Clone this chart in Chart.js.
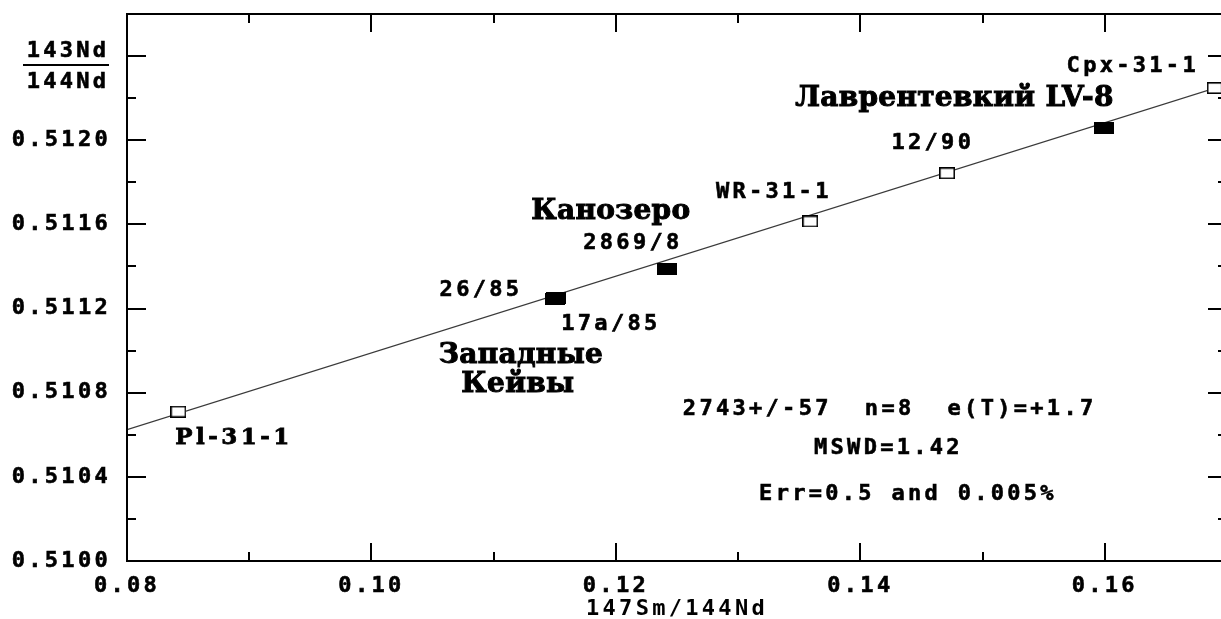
<!DOCTYPE html>
<html>
<head>
<meta charset="utf-8">
<script src="https://cdn.jsdelivr.net/npm/chart.js@4.4.1/dist/chart.umd.min.js"></script>
<style>
  html, body { margin: 0; padding: 0; background: #fff; overflow: hidden; width: 1221px; height: 619px; }
  #wrap { position: absolute; left: 0; top: 0; width: 1232px; height: 619px; }
</style>
</head>
<body>
<div id="wrap"><canvas id="c" width="1232" height="619"></canvas></div>
<script>
// Sm-Nd isochron samples
const sampleNames  = ['Pl-31-1', '26/85', '17a/85', '2869/8', 'WR-31-1', '12/90', 'LV-8', 'Cpx-31-1'];
const sm147Nd144   = [0.0842, 0.1150, 0.1151, 0.1242, 0.1359, 0.1471, 0.1599, 0.1690];
const nd143Nd144   = [0.510710, 0.511243, 0.511248, 0.511390, 0.511614, 0.511843, 0.512057, 0.512248];
const sampleFilled = [false, true, true, true, false, false, true, false];

// Fitted isochron end points
const isochronX = [0.08, 0.17];
const isochronY = [0.510624, 0.512266];

// Labelled axis ticks
const xTickLabels = ['0.08', '0.10', '0.12', '0.14', '0.16'];
const yTickLabels = ['0.5100', '0.5104', '0.5108', '0.5112', '0.5116', '0.5120'];

// Text placed on the plot, anchored in data units
const notes = [
  { text: 'Pl-31-1',  x: 0.08875, y: 0.510586, kind: 'pl' },
  { text: '26/85',    x: 0.10896, y: 0.511286, kind: 'mono' },
  { text: '17a/85',   x: 0.11959, y: 0.511124, kind: 'mono' },
  { text: '2869/8',   x: 0.12139, y: 0.511510, kind: 'mono' },
  { text: 'WR-31-1',  x: 0.13292, y: 0.511752, kind: 'mono' },
  { text: '12/90',    x: 0.14593, y: 0.511986, kind: 'mono' },
  { text: 'Cpx-31-1', x: 0.16229, y: 0.512352, kind: 'mono' },
  { text: 'Канозеро', x: 0.11959, y: 0.511662, kind: 'serif' },
  { text: 'Лаврентевкий LV-8', x: 0.14770, y: 0.512195, kind: 'serif' },
  { text: 'Западные', x: 0.11223, y: 0.510976, kind: 'serif' },
  { text: 'Кейвы',    x: 0.11198, y: 0.510838, kind: 'serif' },
  { text: '2743+/-57  n=8  e(T)=+1.7', x: 0.14240, y: 0.510719, kind: 'mono' },
  { text: 'MSWD=1.42', x: 0.14230, y: 0.510538, kind: 'mono' },
  { text: 'Err=0.5 and 0.005%', x: 0.14390, y: 0.510319, kind: 'mono' }
];

const MONO_FAMILY = '"DejaVu Sans Mono", monospace';
const MONO_SPACING = '3.3px';
const FONTS = {
  mono:  { font: 'bold 22px ' + MONO_FAMILY, spacing: MONO_SPACING, stroke: 0.6 },
  pl:    { font: 'bold 23px "DejaVu Serif", serif', spacing: '3.5px', stroke: 0.8 },
  serif: { font: 'bold 28px "DejaVu Serif", serif', spacing: '0.3px', stroke: 1.0 }
};

// Marker images: open and solid rectangles
function makeMarker(filled) {
  const c = document.createElement('canvas');
  const w = filled ? 20 : 16, h = 12;
  c.width = w; c.height = h;
  const g = c.getContext('2d');
  if (filled) {
    g.fillStyle = '#000';
    g.fillRect(0, 0, w, h);
  } else {
    g.fillStyle = '#fff';
    g.fillRect(0, 0, w, h);
    g.strokeStyle = '#000';
    g.lineWidth = 1.6;
    g.strokeRect(0.8, 0.8, w - 1.6, h - 1.6);
  }
  return c;
}

function pointsOf(filled) {
  const out = [];
  for (let i = 0; i < sampleNames.length; i++) {
    if (sampleFilled[i] === filled) out.push({ x: sm147Nd144[i], y: nd143Nd144[i], name: sampleNames[i] });
  }
  return out;
}

const isMajorX = v => Math.round(v * 100) % 2 === 0;
const isMajorY = v => Math.round(v * 10000) % 4 === 0;

function boldText(ctx, text, px, py, strokeW) {
  ctx.lineWidth = strokeW;
  ctx.strokeText(text, px, py);
  ctx.fillText(text, px, py);
}

const framePlugin = {
  id: 'frame',
  beforeLayout(chart) { chart.ctx.letterSpacing = MONO_SPACING; },
  beforeDraw(chart) { chart.ctx.letterSpacing = MONO_SPACING; },
  afterDraw(chart) {
    const { ctx, chartArea: a, scales: { x, y } } = chart;
    ctx.save();
    ctx.strokeStyle = '#000';
    ctx.lineWidth = 2;
    ctx.strokeRect(a.left, a.top, a.right - a.left, a.bottom - a.top);
    ctx.beginPath();
    x.ticks.forEach(t => {
      const px = Math.round(x.getPixelForValue(t.value));
      const len = isMajorX(t.value) ? 18 : 9;
      ctx.moveTo(px, a.bottom); ctx.lineTo(px, a.bottom - len);
      ctx.moveTo(px, a.top);    ctx.lineTo(px, a.top + len);
    });
    y.ticks.forEach(t => {
      const py = Math.round(y.getPixelForValue(t.value));
      const len = isMajorY(t.value) ? 19 : 9;
      ctx.moveTo(a.left, py);  ctx.lineTo(a.left + len, py);
      ctx.moveTo(a.right, py); ctx.lineTo(a.right - len, py);
    });
    ctx.stroke();

    // y axis title as a fraction
    ctx.fillStyle = '#000';
    ctx.font = FONTS.mono.font;
    ctx.letterSpacing = FONTS.mono.spacing;
    ctx.textAlign = 'center';
    ctx.textBaseline = 'middle';
    boldText(ctx, '143Nd', 68, 51, FONTS.mono.stroke);
    boldText(ctx, '144Nd', 68, 82, FONTS.mono.stroke);
    ctx.lineWidth = 2;
    ctx.beginPath();
    ctx.moveTo(23, 65); ctx.lineTo(109, 65);
    ctx.stroke();

    // plot annotations
    notes.forEach(n => {
      const f = FONTS[n.kind];
      ctx.font = f.font;
      ctx.letterSpacing = f.spacing;
      boldText(ctx, n.text, x.getPixelForValue(n.x), y.getPixelForValue(n.y), f.stroke);
    });
    ctx.restore();
  }
};

const tickFont = { family: MONO_FAMILY, size: 22, weight: 'bold' };

new Chart(document.getElementById('c'), {
  type: 'scatter',
  data: {
    datasets: [
      {
        label: 'isochron',
        data: isochronX.map((v, i) => ({ x: v, y: isochronY[i] })),
        showLine: true,
        borderColor: '#3a3a3a',
        borderWidth: 1.3,
        pointRadius: 0,
        order: 3
      },
      {
        label: 'open',
        data: pointsOf(false),
        pointStyle: makeMarker(false),
        order: 1
      },
      {
        label: 'filled',
        data: pointsOf(true),
        pointStyle: makeMarker(true),
        order: 2
      }
    ]
  },
  options: {
    responsive: false,
    animation: false,
    devicePixelRatio: 1,
    layout: { padding: { top: 14, right: 5, left: 0, bottom: 0 } },
    plugins: { legend: { display: false }, tooltip: { enabled: false } },
    scales: {
      x: {
        type: 'linear',
        min: 0.08, max: 0.17,
        grid: { display: false, drawTicks: false },
        border: { display: false },
        afterFit: s => { s.height = 58; s.paddingLeft = 0; s.paddingRight = 0; },
        ticks: {
          stepSize: 0.01,
          autoSkip: false,
          maxRotation: 0,
          padding: 12,
          color: '#000',
          textStrokeColor: '#000',
          textStrokeWidth: 0.6,
          font: tickFont,
          callback: v => { const s = Number(v).toFixed(2); return xTickLabels.includes(s) ? s : ''; }
        },
        title: {
          display: true,
          text: '147Sm/144Nd',
          color: '#000',
          font: { family: MONO_FAMILY, size: 22, weight: 'bold', lineHeight: 1.0 },
          padding: { top: 0, bottom: -1 }
        }
      },
      y: {
        type: 'linear',
        min: 0.5100, max: 0.5126,
        grid: { display: false, drawTicks: false },
        border: { display: false },
        afterFit: s => { s.width = 127; s.paddingTop = 0; s.paddingBottom = 0; },
        ticks: {
          stepSize: 0.0002,
          autoSkip: false,
          padding: 16,
          color: '#000',
          textStrokeColor: '#000',
          textStrokeWidth: 0.6,
          font: tickFont,
          callback: v => { const s = Number(v).toFixed(4); return yTickLabels.includes(s) ? s : ''; }
        }
      }
    }
  },
  plugins: [framePlugin]
});
</script>
</body>
</html>
